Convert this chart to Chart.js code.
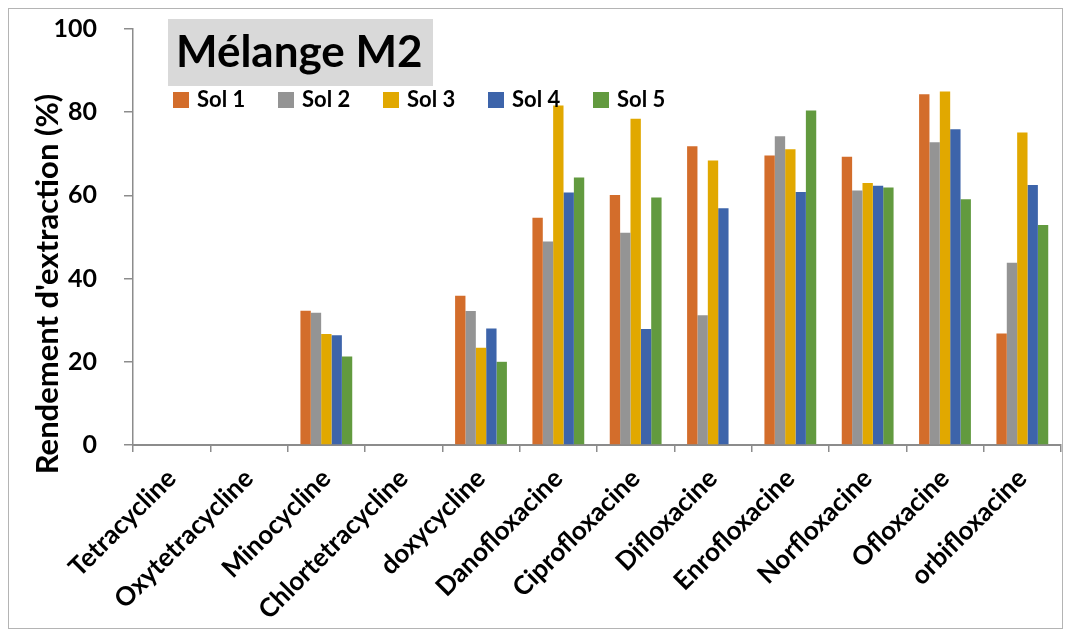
<!DOCTYPE html>
<html>
<head>
<meta charset="utf-8">
<script src="https://cdn.jsdelivr.net/npm/chart.js@4/dist/chart.umd.min.js"></script>
<style>
  html, body { margin: 0; padding: 0; background: #fff; }
  #wrap { width: 1071px; height: 637px; }
</style>
</head>
<body>
<div id="wrap"><canvas id="chart" width="1071" height="637"></canvas></div>
<script>
// données
const molecules = [
  "Tetracycline", "Oxytetracycline", "Minocycline", "Chlortetracycline",
  "doxycycline", "Danofloxacine", "Ciprofloxacine", "Difloxacine",
  "Enrofloxacine", "Norfloxacine", "Ofloxacine", "orbifloxacine",
];
const sol1 = [0, 0, 32.3, 0, 35.9, 54.6, 60.1, 71.8, 69.6, 69.3, 84.3, 26.8];
const sol2 = [0, 0, 31.8, 0, 32.2, 48.9, 51.0, 31.2, 74.2, 61.2, 72.8, 43.8];
const sol3 = [0, 0, 26.7, 0, 23.4, 81.6, 78.4, 68.4, 71.1, 63.0, 85.0, 75.1];
const sol4 = [0, 0, 26.4, 0, 28.0, 60.7, 27.9, 56.9, 60.8, 62.3, 75.9, 62.5];
const sol5 = [0, 0, 21.3, 0, 20.0, 64.3, 59.5, 0, 80.4, 61.9, 59.1, 52.9];
const solNames = ["Sol 1", "Sol 2", "Sol 3", "Sol 4", "Sol 5"];
const solColors = ["#D36D2B", "#949494", "#E1A800", "#3D64AA", "#629A3F"];
const yTicks = [0, 20, 40, 60, 80, 100];

const FONT = "Lato, 'Open Sans', sans-serif";
const AXIS = "#8c8c8c";

// cadre, titre, légende et titre de l'axe Y
const decor = {
  id: "decor",
  beforeDraw(chart) {
    const c = chart.ctx;
    c.save();
    c.fillStyle = "#fff";
    c.fillRect(0, 0, chart.width, chart.height);
    c.strokeStyle = "#b4b4b4";
    c.lineWidth = 1;
    c.strokeRect(8.5, 8.5, chart.width - 17, chart.height - 17);
    c.restore();
  },
  afterDraw(chart) {
    const c = chart.ctx;
    c.save();
    // titre
    c.fillStyle = "#d9d9d9";
    c.fillRect(168, 19, 265, 67);
    c.fillStyle = "#000";
    c.font = "bold 44px " + FONT;
    c.textBaseline = "middle";
    c.textAlign = "left";
    c.fillText("Mélange M2", 176, 53);

    // légende
    c.font = "bold 22px " + FONT;
    chart.data.datasets.forEach((ds, i) => {
      const x = 173 + i * 105;
      c.fillStyle = ds.backgroundColor;
      c.fillRect(x, 92, 16, 16);
      c.fillStyle = "#000";
      c.fillText(ds.label, x + 24, 100);
    });

    // titre axe Y
    c.translate(48, 284);
    c.rotate(-Math.PI / 2);
    c.textAlign = "center";
    c.font = "bold 31px " + FONT;
    c.fillText("Rendement d'extraction (%)", 0, 0);
    c.restore();
  },
};

const datasets = [sol1, sol2, sol3, sol4, sol5].map((vals, i) => ({
  label: solNames[i],
  data: vals,
  backgroundColor: solColors[i],
  borderWidth: 0,
  categoryPercentage: 0.67,
  barPercentage: 1.0,
}));

new Chart(document.getElementById("chart"), {
  type: "bar",
  data: { labels: molecules, datasets },
  plugins: [decor],
  options: {
    responsive: false,
    animation: false,
    layout: { padding: { left: 0, top: 29, right: 10, bottom: 0 } },
    plugins: {
      legend: { display: false },
      title: { display: false },
      tooltip: { enabled: false },
    },
    scales: {
      x: {
        afterFit: (s) => {
          s.height = 192;
          s.paddingLeft = 0;
          s.paddingRight = 0;
        },
        grid: {
          offset: true,
          drawOnChartArea: false,
          drawTicks: true,
          tickLength: 7,
          color: AXIS,
          lineWidth: 1.5,
        },
        border: { display: true, color: AXIS, width: 2 },
        ticks: {
          autoSkip: false,
          minRotation: 45,
          maxRotation: 45,
          padding: 11,
          color: "#000",
          font: { family: FONT, size: 26, weight: "bold" },
        },
      },
      y: {
        min: 0,
        max: 100,
        afterFit: (s) => {
          s.width = 133;
          s.paddingTop = 0;
          s.paddingBottom = 0;
        },
        afterBuildTicks: (s) => { s.ticks = yTicks.map((v) => ({ value: v })); },
        grid: {
          drawOnChartArea: false,
          drawTicks: true,
          tickLength: 9,
          color: AXIS,
          lineWidth: 1.5,
        },
        border: { display: true, color: AXIS, width: 1.5 },
        ticks: {
          padding: 27,
          color: "#000",
          font: { family: FONT, size: 25, weight: "bold" },
        },
      },
    },
  },
});
</script>
</body>
</html>
